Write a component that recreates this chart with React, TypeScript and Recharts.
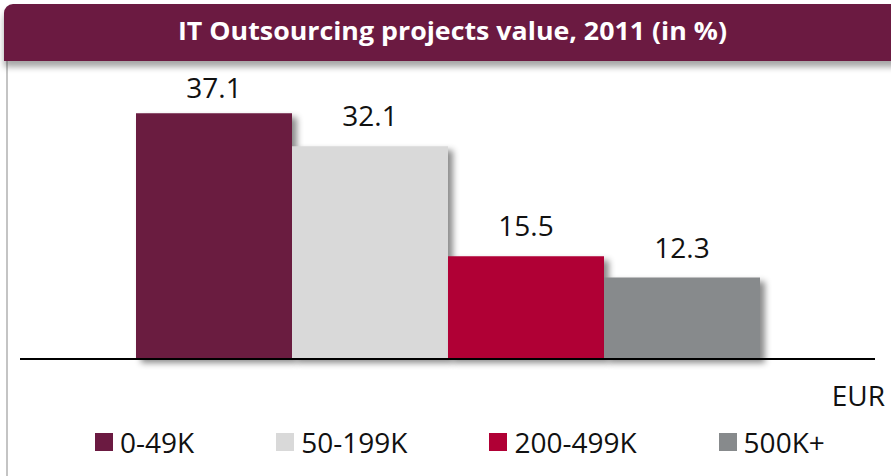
import React from 'react';
import { BarChart, Bar, XAxis, YAxis, ReferenceLine, LabelList } from 'recharts';

const title = 'IT Outsourcing projects value, 2011 (in %)';
const categories = ['2011'];
const seriesNames = ['0-49K', '50-199K', '200-499K', '500K+'];
const seriesValues = [37.1, 32.1, 15.5, 12.3];
const seriesColors = ['#6B1A41', '#D9D9D9', '#B00035', '#878A8C'];
const unitLabel = 'EUR';

const data = categories.map((c) => {
  const row: Record<string, any> = { name: c };
  seriesNames.forEach((s, i) => {
    row['s' + i] = seriesValues[i];
  });
  return row;
});

const FONT = '"Open Sans", "DejaVu Sans", sans-serif';

const makeLabel = (idx: number) => (props: any) => {
  const { x, y, width, value } = props;
  const cx = Number(x) + Number(width) / 2;
  const baseline = Math.max(Number(y) - 20, 98);
  return (
    <text
      key={'lbl' + idx}
      x={cx}
      y={baseline}
      textAnchor="middle"
      fontFamily={FONT}
      fontSize={28}
      fill="#111"
    >
      {value}
    </text>
  );
};

export default function App() {
  return (
    <div
      style={{
        position: 'absolute',
        left: 0,
        top: 0,
        width: 891,
        height: 476,
        background: '#fff',
        overflow: 'hidden',
        fontFamily: FONT,
      }}
    >
      {/* left frame line */}
      <div
        style={{
          position: 'absolute',
          left: 6,
          top: 60,
          width: 2,
          height: 420,
          background: '#C4C4C4',
        }}
      />
      {/* title bar */}
      <div
        style={{
          position: 'absolute',
          left: 4,
          top: 4,
          width: 900,
          height: 57,
          background: '#6B1A41',
          borderTopLeftRadius: 9,
          boxShadow: '0 6px 6px rgba(0,0,0,0.35)',
        }}
      />
      <svg
        width={891}
        height={70}
        style={{ position: 'absolute', left: 0, top: 0 }}
      >
        <text
          x={452.5}
          y={40}
          textAnchor="middle"
          fill="#fff"
          fontFamily={FONT}
          fontWeight={700}
          fontSize={25}
          textLength={549}
          lengthAdjust="spacingAndGlyphs"
        >
          {title}
        </text>
      </svg>
      <div style={{ position: 'absolute', left: 0, top: 0 }}>
        <BarChart
          width={891}
          height={476}
          data={data}
          margin={{ top: 94, right: 16, bottom: 117, left: 20 }}
          barCategoryGap={116}
          barGap={0}
        >
          <defs>
            <filter id="barShadow" x="-10%" y="-10%" width="130%" height="130%">
              <feDropShadow dx={5} dy={4} stdDeviation={3} floodColor="#000" floodOpacity={0.45} />
            </filter>
          </defs>
          <XAxis dataKey="name" hide />
          <YAxis domain={[0, 40]} hide />
          {seriesNames.map((s, i) => (
            <Bar
              key={s}
              dataKey={'s' + i}
              name={s}
              fill={seriesColors[i]}
              isAnimationActive={false}
              style={{ filter: 'url(#barShadow)' }}
            >
              <LabelList dataKey={'s' + i} content={makeLabel(i)} />
            </Bar>
          ))}
          <ReferenceLine y={0} stroke="#000" strokeWidth={2} />
        </BarChart>
      </div>
      {/* unit label */}
      <div
        style={{
          position: 'absolute',
          right: 6,
          top: 376,
          fontSize: 28,
          lineHeight: '38px',
          color: '#111',
        }}
      >
        {unitLabel}
      </div>
      {/* legend */}
      <div
        style={{
          position: 'absolute',
          left: 95,
          top: 428,
          display: 'flex',
          alignItems: 'center',
          height: 28,
        }}
      >
        {seriesNames.map((s, i) => (
          <div
            key={s}
            style={{
              display: 'flex',
              alignItems: 'center',
              marginRight: 82,
            }}
          >
            <div style={{ width: 18, height: 18, background: seriesColors[i], marginRight: 7 }} />
            <span style={{ fontSize: 28, lineHeight: '28px', color: '#111', whiteSpace: 'nowrap' }}>{s}</span>
          </div>
        ))}
      </div>
    </div>
  );
}
